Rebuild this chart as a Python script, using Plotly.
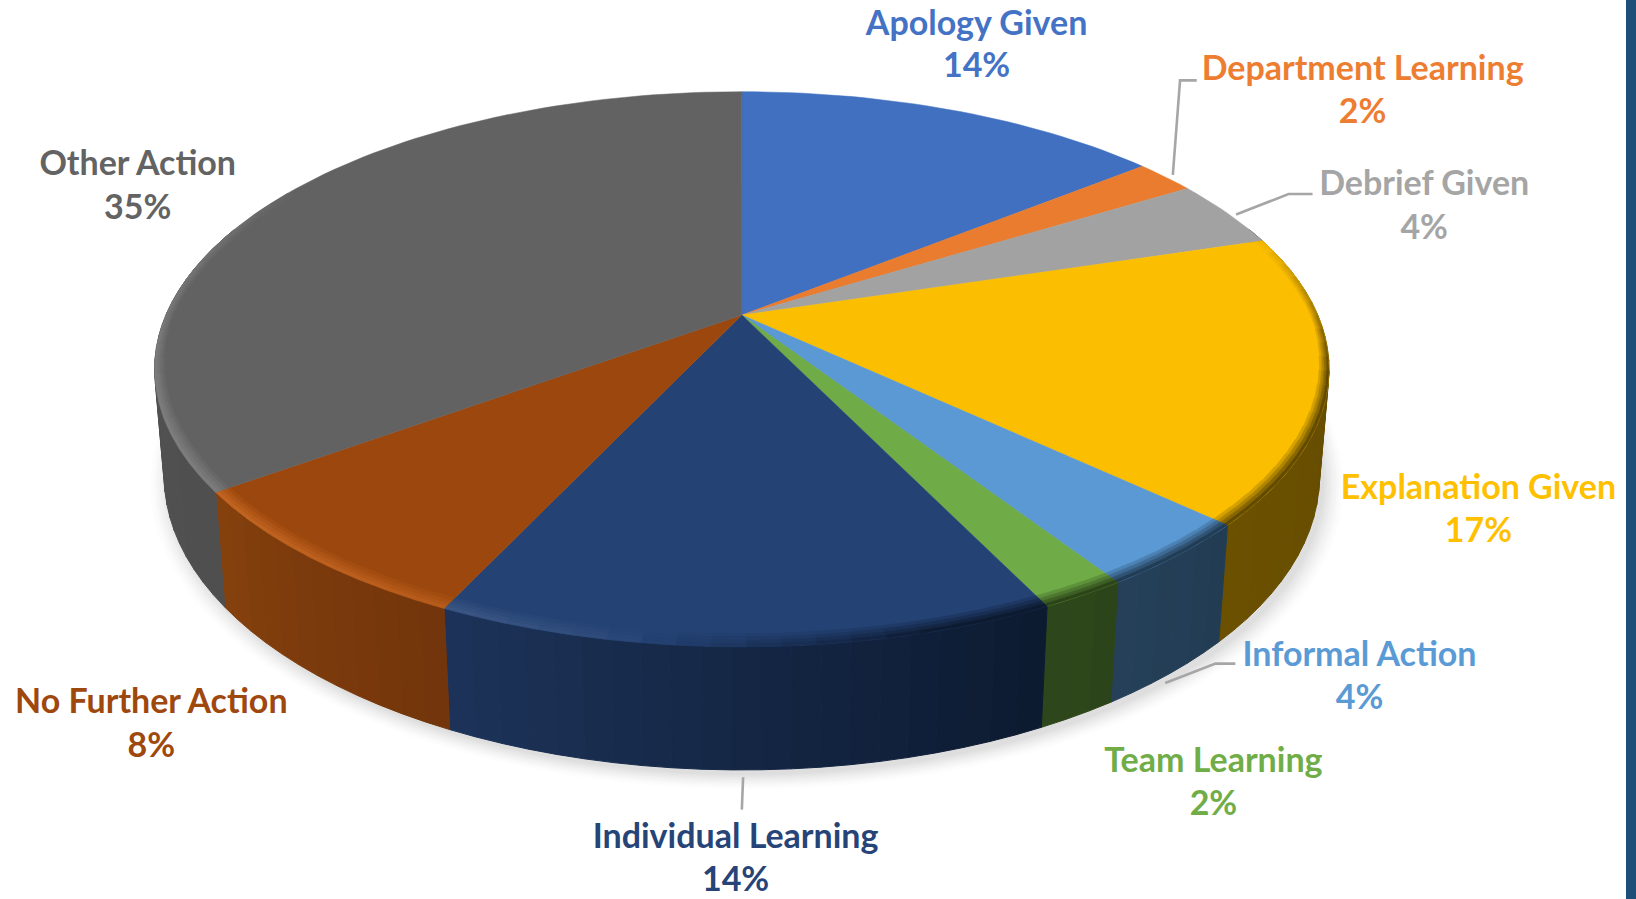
import math
import plotly.graph_objects as go

# ---- data ----
categories = ["Apology Given", "Department Learning", "Debrief Given", "Explanation Given",
              "Informal Action", "Team Learning", "Individual Learning", "No Further Action", "Other Action"]
values = [14.25, 2.0, 4.0, 16.7, 3.85, 2.0, 14.2, 8.0, 35.0]

# ---- styles ----
top_colors = ["#4170C0", "#EA7C2F", "#A2A2A2", "#FBBE00", "#5A99D3", "#6FAB46", "#244274", "#9C470D", "#626262"]
text_colors = ["#4472C4", "#ED7D31", "#A5A5A5", "#FFC000", "#5B9BD5", "#70AD47", "#264478", "#9E480E", "#636363"]
side_left = ["#2a4577", "#8a4a1d", "#666666", "#6b5000", "#254059", "#2e471b", "#1c3359", "#85400d", "#565656"]
side_right = ["#2a4577", "#8a4a1d", "#666666", "#624a00", "#223c53", "#2c4419", "#0d1a30", "#72350b", "#4f4f4f"]

W, H = 1636, 899
S = W / 1568
CX, CY = 711.0, 302.0            # hub of the top face, in the shrunk reference pixels
A, B, K = 552.0, 255.9, 0.195    # projective tilt
M, C = 0.016, 102.0              # depth of the extrusion


def project(theta, r=1.0, z=0.0):
    t = math.radians(theta)
    x, y = r * math.sin(t), r * math.cos(t)
    w = 1 + K * y + M * z
    return (CX + A * x / w) * S, (CY - (B * y - C * z) / w) * S


def hex2rgb(c):
    return tuple(int(c[i:i + 2], 16) for i in (1, 3, 5))


def mix(c1, c2, t):
    a, b = hex2rgb(c1), hex2rgb(c2)
    t = max(0.0, min(1.0, t))
    return "#%02x%02x%02x" % tuple(round(a[i] + (b[i] - a[i]) * t) for i in range(3))


def poly(points, color, lw=0.8):
    xs = [p[0] for p in points] + [points[0][0]]
    ys = [p[1] for p in points] + [points[0][1]]
    return go.Scatter(x=xs, y=ys, mode="lines", fill="toself", fillcolor=color,
                      line=dict(color=color, width=lw), hoverinfo="skip", showlegend=False)


def arc(a0, a1, step=1.5):
    n = max(1, int(math.ceil((a1 - a0) / step)))
    return [a0 + (a1 - a0) * i / n for i in range(n + 1)]


total = sum(values)
bounds = [0.0]
for v in values:
    bounds.append(bounds[-1] + v / total * 360)

traces = []

# soft shadow below the pie
n_sh = 10
full = arc(0, 360, 3)
for i in range(n_sh):
    f = i / (n_sh - 1)
    r = 1 + 0.036 * (1 - f)
    col = mix("#ffffff", "#dedede", f ** 1.4)
    pts = [project(a, r, 1) for a in full]
    pts = [(x + 5 * S, y + 5 * S) for x, y in pts]
    traces.append(poly(pts, col, 0))

# side wall
for i in range(len(values)):
    a0, a1 = bounds[i], bounds[i + 1]
    lo, hi = max(a0, 70), min(a1, 290)
    if hi <= lo:
        continue
    ang = arc(lo, hi, 2.5)
    for j in range(len(ang) - 1):
        # theta runs clockwise, so the start of a front slice is on its right
        t = 1 - ((ang[j] + ang[j + 1]) / 2 - a0) / (a1 - a0)
        col = mix(side_left[i], side_right[i], t)
        traces.append(poly([project(ang[j], 1, 0), project(ang[j + 1], 1, 0),
                            project(ang[j + 1], 1, 1), project(ang[j], 1, 1)], col, 1))

# top face
for i in range(len(values)):
    pts = [project(0, 0)] + [project(a) for a in arc(bounds[i], bounds[i + 1])]
    traces.append(poly(pts, top_colors[i], 0.5))


# bevel along the rim of the top face
def rim_target(i, th):
    top = top_colors[i]
    if 188 <= th <= 300:
        a = math.sin(math.pi * (th - 188) / 112) ** 0.6
        return mix(top, "#ffffff", 0.17 * a) if i != 7 else mix(top, "#f08a3c", 0.45 * a)
    if 72 <= th < 188:
        a = min(1, (th - 72) / 30) * min(1, (188 - th) / 25)
        return mix(top, side_right[i], a)
    return top


n_bands = 4
for i in range(len(values)):
    lo, hi = max(bounds[i], 72), min(bounds[i + 1], 300)
    if hi <= lo:
        continue
    ang = arc(lo, hi, 3)
    for j in range(len(ang) - 1):
        mid = (ang[j] + ang[j + 1]) / 2
        target = rim_target(i, mid)
        width = 0.012 + 0.02 * abs(math.cos(math.radians(mid)))
        for b in range(n_bands):
            col = mix(top_colors[i], target, (b + 1) / n_bands)
            r0 = 1 - width * (1 - b / n_bands)
            r1 = 1 - width * (1 - (b + 1) / n_bands)
            traces.append(poly([project(ang[j], r0), project(ang[j + 1], r0),
                                project(ang[j + 1], r1), project(ang[j], r1)], col, 0.5))


# leader lines: start at the slice's rim, then go through an elbow
def mid_angle(name):
    i = categories.index(name)
    return (bounds[i] + bounds[i + 1]) / 2


leaders = [
    ("Department Learning", 0, (7, -2), [(1131, 77), (1147, 77)]),
    ("Debrief Given", 0, (8, 1), [(1235, 186), (1258, 186)]),
    ("Informal Action", 1, (-4, 9), [(1165, 636), (1184, 636)]),
    ("Individual Learning", 1, (-3, 7), [(711, 776)]),
]
for name, z, off, rest in leaders:
    x0, y0 = project(mid_angle(name), 1, z)
    xs = [x0 + off[0] * S] + [p[0] * S for p in rest]
    ys = [y0 + off[1] * S] + [p[1] * S for p in rest]
    traces.append(go.Scatter(x=xs, y=ys, mode="lines", line=dict(color="#A6A6A6", width=2.6),
                             hoverinfo="skip", showlegend=False))

# labels (name line, percent line)
label_pos = [(936, 25, 66), (1306, 69, 110), (1365, 179, 221), (1417, 470, 511), (1303, 630, 671),
             (1163, 732, 773), (705, 805, 846), (145, 675, 717), (132, 160, 202)]
FONT = "Lato"
FS = 34
for i, name in enumerate(categories):
    lx, ly1, ly2 = label_pos[i]
    traces.append(go.Scatter(
        x=[lx * S, lx * S], y=[ly1 * S, ly2 * S], mode="text",
        text=[name, f"{round(values[i])}%"], textposition="middle center",
        textfont=dict(family=FONT, size=FS, color=text_colors[i], weight=700),
        hoverinfo="skip", showlegend=False, cliponaxis=False))

fig = go.Figure(traces)
fig.update_layout(
    width=W, height=H, margin=dict(l=0, r=0, t=0, b=0),
    paper_bgcolor="white", plot_bgcolor="white", showlegend=False,
    xaxis=dict(range=[0, W], visible=False, fixedrange=True),
    yaxis=dict(range=[H, 0], visible=False, fixedrange=True),
    shapes=[dict(type="rect", xref="x", yref="y", x0=1626, x1=W, y0=0, y1=H,
                 fillcolor="#1F4E79", line=dict(width=0))],
)
fig.write_html("out.html", config=dict(displayModeBar=False),
               post_script="document.body.style.margin='0';document.body.style.overflow='hidden';")
